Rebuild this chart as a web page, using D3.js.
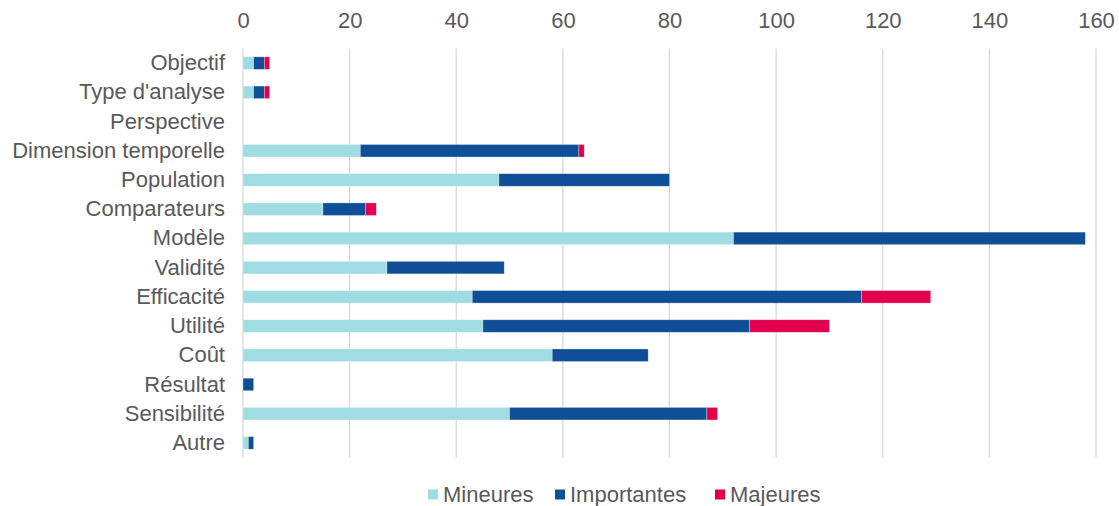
<!DOCTYPE html>
<html>
<head>
<meta charset="utf-8">
<script src="https://cdn.jsdelivr.net/npm/d3@7"></script>
<style>
  html, body { margin: 0; padding: 0; background: #fff; }
  svg { display: block; font-family: "Liberation Sans", Arial, sans-serif; }
</style>
</head>
<body>
<svg id="chart" width="1119" height="506"></svg>
<script>
// Categories of the analysis and the number of remarks per severity
const categories = ["Objectif", "Type d'analyse", "Perspective", "Dimension temporelle",
  "Population", "Comparateurs", "Modèle", "Validité", "Efficacité", "Utilité",
  "Coût", "Résultat", "Sensibilité", "Autre"];
const mineures    = [2, 2, 0, 22, 48, 15, 92, 27, 43, 45, 58, 0, 50, 1];
const importantes = [2, 2, 0, 41, 32,  8, 66, 22, 73, 50, 18, 2, 37, 1];
const majeures    = [1, 1, 0,  1,  0,  2,  0,  0, 13, 15,  0, 0,  2, 0];
const seriesNames = ["Mineures", "Importantes", "Majeures"];
const seriesColors = ["#9FDDE3", "#0E4F97", "#E2004E"];
const xTicks = [0, 20, 40, 60, 80, 100, 120, 140, 160];

const svg = d3.select("#chart");
const margin = { left: 243, right: 1096, top: 48.5, bottom: 457.5 };
const fontSize = 22;
const textColor = "#595959";

const rows = categories.map((c, i) => ({
  cat: c, Mineures: mineures[i], Importantes: importantes[i], Majeures: majeures[i]
}));
const stacked = d3.stack().keys(seriesNames)(rows);

const x = d3.scaleLinear().domain([0, 160]).range([margin.left, margin.right]);
const y = d3.scaleBand().domain(categories).range([margin.top, margin.bottom])
  .paddingInner(0.57).paddingOuter(0.285);
const color = d3.scaleOrdinal().domain(seriesNames).range(seriesColors);

// Vertical gridlines
svg.append("g").selectAll("line").data(xTicks).join("line")
  .attr("x1", d => x(d)).attr("x2", d => x(d))
  .attr("y1", margin.top).attr("y2", margin.bottom)
  .attr("stroke", "#d9d9d9").attr("stroke-width", 1.3);

// Top axis labels
const xAxis = d3.axisTop(x).tickValues(xTicks).tickSize(0).tickPadding(0);
const gx = svg.append("g").attr("transform", "translate(0,28)").call(xAxis);
gx.select(".domain").remove();
gx.selectAll("text").attr("font-size", fontSize).attr("fill", textColor)
  .attr("font-family", "Liberation Sans, Arial, sans-serif");

// Category labels
const yAxis = d3.axisLeft(y).tickSize(0).tickPadding(0);
const gy = svg.append("g").attr("transform", `translate(${margin.left - 18},0)`).call(yAxis);
gy.select(".domain").remove();
gy.selectAll("text").attr("font-size", fontSize).attr("fill", textColor)
  .attr("font-family", "Liberation Sans, Arial, sans-serif");

// Stacked bars
svg.append("g").selectAll("g").data(stacked).join("g")
  .attr("fill", d => color(d.key))
  .selectAll("rect").data(d => d).join("rect")
  .attr("x", d => x(d[0]))
  .attr("y", d => y(d.data.cat))
  .attr("width", d => Math.max(0, x(d[1]) - x(d[0])))
  .attr("height", y.bandwidth())
  .attr("stroke", "#ffffff").attr("stroke-opacity", 0.5).attr("stroke-width", 0.6);

// Legend
const legendX = [428, 555, 715];
const lg = svg.append("g").selectAll("g").data(seriesNames).join("g")
  .attr("transform", (d, i) => `translate(${legendX[i]},489.5)`);
lg.append("rect").attr("width", 10).attr("height", 10).attr("fill", d => color(d));
lg.append("text").attr("x", 15).attr("y", 5).attr("dy", "0.35em")
  .attr("font-size", fontSize).attr("fill", textColor).text(d => d);
</script>
</body>
</html>
